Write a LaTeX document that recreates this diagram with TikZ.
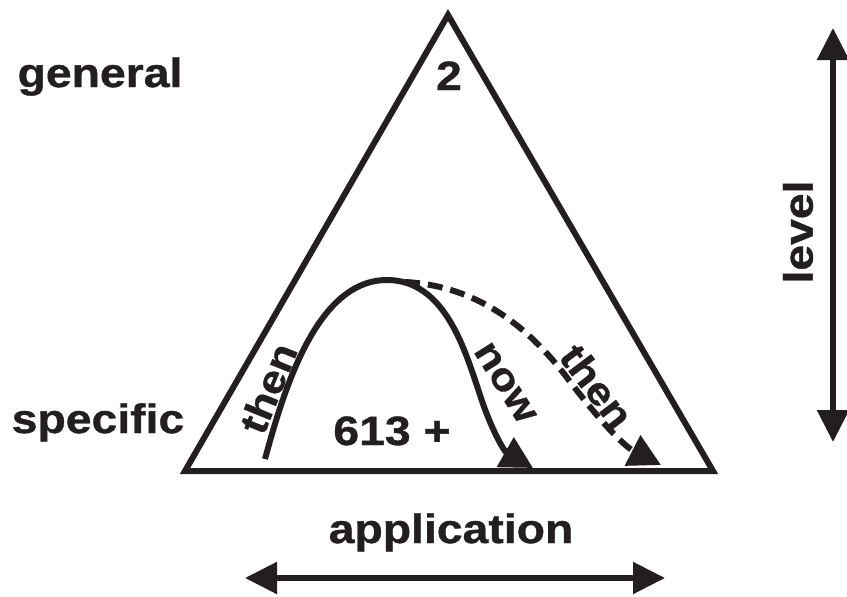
\documentclass[tikz,border=0pt]{standalone}
\usepackage{fontspec}
\setmainfont{Liberation Sans}[FakeStretch=1.13,FakeBold=0.9]
\usetikzlibrary{arrows.meta}
\definecolor{ink}{RGB}{35,31,32}
\begin{document}
\begin{tikzpicture}[x=1pt,y=-1pt,
  lbl/.style={font=\fontsize{41}{45}\selectfont\bfseries, text=ink, inner sep=0pt},
  rlbl/.style={font=\fontsize{39}{43}\selectfont\bfseries, text=ink, inner sep=0pt},
  tri/.style={draw=ink, line width=6pt, line join=miter},
  arr/.style={draw=ink, line width=6pt, -{Triangle[length=32pt,width=33pt]}},
  darr/.style={draw=ink, line width=5.5pt, {Triangle[length=32pt,width=31pt]}-{Triangle[length=32pt,width=31pt]}}
]
\useasboundingbox[fill=white] (0,0) rectangle (847,597);
% triangle
\coordinate (A) at (448,15);
\coordinate (B) at (185,471);
\coordinate (C) at (713,471);
\draw[tri] (A) -- (B) -- (C) -- cycle;
% axis arrows
\coordinate (h1) at (245,578);
\coordinate (h2) at (665,578);
\draw[darr] (h1) -- (h2);
\coordinate (v1) at (833,28);
\coordinate (v2) at (833,442);
\draw[darr] (v1) -- (v2);
% curves
\coordinate (s0) at (265,459);
\coordinate (peak) at (387,280);
\coordinate (s1) at (533,468);
\draw[arr] (s0) .. controls (285,385) and (318,280) .. (peak)
  .. controls (445,280) and (465,350) .. (480,395)
  .. controls (492,432) and (505,452) .. (s1);
\coordinate (d0) at (405,282);
\coordinate (d1) at (661,465);
\draw[arr, dash pattern=on 15pt off 8pt] (d0) .. controls (480,286) and (530,330) .. (565,375)
  .. controls (595,415) and (622,445) .. (d1);
% labels
\node[lbl, anchor=base] (general) at (100,87) {general};
\node[lbl, anchor=base] (two) at (449,90) {2};
\node[lbl, anchor=base] (specific) at (98,433) {specific};
\node[lbl, anchor=base] (application) at (451,543) {application};
\node[lbl, anchor=base] (sum) at (392,445) {613 +};
\node[lbl, rotate=90] (level) at (798,232) {level};
\node[rlbl, rotate=68] (then1) at (268,388) {then};
\node[rlbl, rotate=-58] (now) at (505,383) {now};
\node[rlbl, rotate=-53] (then2) at (597,386) {then};
\end{tikzpicture}
\end{document}
